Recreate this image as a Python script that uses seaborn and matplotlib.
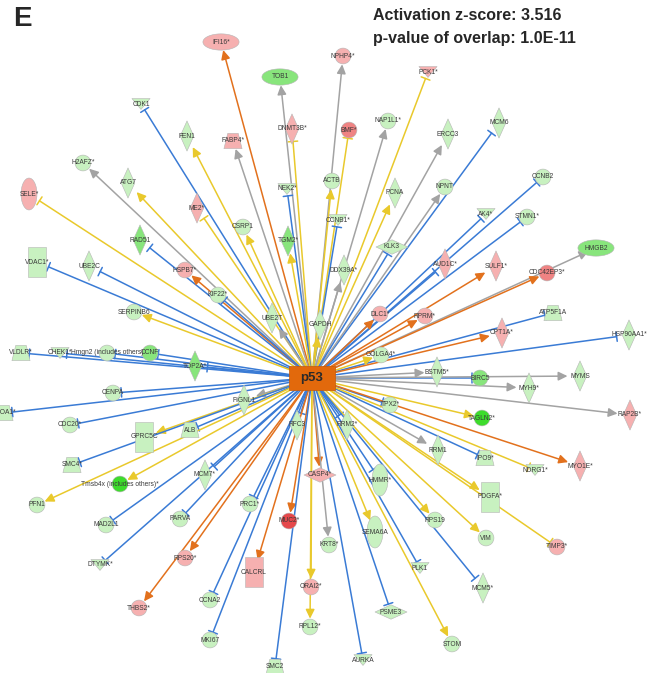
import numpy as np
import pandas as pd
import matplotlib.pyplot as plt
from matplotlib.path import Path
import seaborn as sns

sns.set_theme(style="white")
plt.rcParams["font.family"] = ["Liberation Sans", "DejaVu Sans"]

# hub of the network
HUB = "p53"
HUB_X, HUB_Y = 312, 378

# target genes, layout position, node shape, regulation level, edge type
genes = [
    "IFI16*", "TOB1", "NPHP4*", "PCK1*", "DNMT3B*", "BMF*", "NAP1L1*", "ERCC3", "MCM6", "FABP4*",
    "CDK1", "FEN1", "H2AFZ*", "ATG7", "SELE*", "ME2*", "NEK2*", "ACTB", "PCNA", "NPNT",
    "CCNB2", "CCNB1*", "CSRP1", "TGM2*", "AK4*", "STMN1*", "KLK3", "DDX39A*", "HMGB2", "RAD51",
    "VDAC1*", "UBE2C", "HSPB7*", "AUD1C*", "SULF1*", "CDC42EP3*", "KIF22*", "SERPINB6", "UBE2T", "GAPDH",
    "DLC1*", "RPRM*", "ATP5F1A", "CPT1A*", "HSP90AA1*", "VLDLR*", "CHEK1*", "Hmgn2 (includes others)", "CCNF", "TOP2A*",
    "GOLGA4*", "BSTM5*", "BIRC5", "MYH9*", "MYMS", "RAP2B*", "TAGLN2*", "CENPA", "APOA1*", "CDC20*",
    "ALB", "FIGNL1", "GPRC5C", "TPX2*", "RFC3", "RRM2*", "RRM1", "IPO9*", "NDRG1*", "MYO1E*",
    "SMC4*", "Tmsb4x (includes others)*", "MCM7*", "PFN1", "HMMR*", "CASP4*", "PDGFA*", "PARVA", "MAD2L1", "PRC1*",
    "MUC2*", "SEMA6A", "KRT8*", "RPS19", "VIM", "TIMP3*", "RPS20*", "DTYMK*", "CALCRL", "PLK1",
    "MCM5*", "THBS2*", "CCNA2", "ORAI2*", "PSME3", "RPL12*", "STOM", "MKI67", "AURKA", "SMC2",
    "",
]
node_x = [
    221, 280, 343, 428, 292, 349, 388, 448, 499, 233,
    141, 187, 83, 128, 29, 197, 287, 332, 395, 445,
    543, 338, 243, 288, 486, 527, 392, 344, 596, 140,
    37, 89, 185, 445, 496, 547, 218, 134, 272, 320,
    380, 425, 553, 502, 629, 21, 60, 107, 150, 195,
    381, 437, 480, 529, 580, 630, 482, 113, 4, 70,
    190, 244, 144, 390, 297, 347, 438, 485, 535, 580,
    72, 120, 205, 37, 380, 320, 490, 180, 106, 250,
    289, 375, 329, 435, 486, 557, 185, 100, 254, 420,
    483, 139, 210, 311, 391, 310, 452, 210, 363, 275,
    -40,
]
node_y = [
    42, 77, 56, 72, 129, 130, 121, 134, 123, 141,
    104, 136, 163, 183, 194, 208, 189, 181, 193, 187,
    177, 220, 227, 241, 214, 217, 247, 270, 248, 240,
    262, 266, 270, 264, 266, 273, 295, 312, 318, 325,
    314, 316, 313, 333, 335, 353, 353, 353, 353, 366,
    355, 372, 378, 388, 376, 415, 418, 393, 413, 425,
    430, 400, 437, 405, 425, 425, 450, 458, 470, 466,
    465, 484, 475, 505, 480, 475, 497, 519, 525, 504,
    521, 532, 545, 520, 538, 547, 558, 565, 572, 568,
    588, 608, 600, 587, 612, 627, 644, 640, 660, 667,
    290,
]
shapes = [
    "ellipse", "ellipse", "circle", "triangle", "diamond", "circle", "circle", "diamond", "diamond", "trapezoid",
    "triangle", "diamond", "circle", "diamond", "tall_ellipse", "diamond", "triangle", "circle", "diamond", "circle",
    "circle", "triangle", "circle", "diamond", "triangle", "circle", "wide_diamond", "diamond", "ellipse", "diamond",
    "rectangle", "diamond", "circle", "diamond", "diamond", "circle", "circle", "circle", "diamond", "diamond",
    "circle", "circle", "trapezoid", "diamond", "diamond", "trapezoid", "triangle", "circle", "circle", "diamond",
    "circle", "diamond", "circle", "diamond", "diamond", "diamond", "circle", "circle", "trapezoid", "circle",
    "trapezoid", "diamond", "rectangle", "circle", "diamond", "diamond", "diamond", "trapezoid", "triangle", "diamond",
    "trapezoid", "circle", "diamond", "circle", "tall_ellipse", "wide_diamond", "rectangle", "circle", "circle", "circle",
    "circle", "tall_ellipse", "circle", "circle", "circle", "circle", "circle", "triangle", "rectangle", "triangle",
    "diamond", "circle", "circle", "circle", "wide_diamond", "circle", "circle", "circle", "triangle", "trapezoid",
    "circle",
]
# negative = down-regulated (green), positive = up-regulated (red)
levels = [
    1, -2, 1, 1, 1, 2, -1, -1, -1, 1,
    -1, -1, -1, -1, 1, 1, -1, -1, -1, -1,
    -1, -1, -1, -2, -1, -1, -1, -1, -2, -2,
    -1, -1, 1, 1, 1, 2, -1, -1, -1, -1,
    1, 1, -1, 1, -1, -1, -1, -1, -2, -2,
    -1, -1, -2, -1, -1, 1, -3, -1, -1, -1,
    -1, -1, -1, -1, -1, -1, -1, -1, -1, 1,
    -1, -3, -1, -1, -1, 1, -1, -1, -1, -1,
    3, -1, -1, -1, -1, 1, 1, -1, 1, -1,
    -1, 1, -1, 1, -1, -1, -1, -1, -1, -1,
    -1,
]
# b = inhibition (blue), o = activation (orange), y = inconsistent (yellow), g = not predicted (grey)
edge_kind = [
    "o", "g", "g", "y", "y", "y", "g", "g", "b", "g",
    "b", "y", "g", "y", "y", "y", "b", "y", "y", "g",
    "b", "b", "y", "y", "b", "b", "b", "g", "g", "b",
    "b", "b", "o", "b", "o", "o", "b", "y", "g", "y",
    "o", "o", "b", "o", "b", "b", "b", "b", "b", "b",
    "y", "g", "b", "g", "g", "g", "y", "b", "b", "b",
    "b", "g", "y", "b", "b", "b", "g", "b", "y", "o",
    "b", "y", "b", "y", "b", "o", "y", "b", "b", "b",
    "o", "y", "g", "y", "y", "y", "o", "b", "o", "b",
    "b", "o", "b", "y", "b", "y", "y", "b", "b", "b",
    "y",
]
edge_head = [
    "arrow", "arrow", "arrow", "bar", "bar", "bar", "arrow", "arrow", "bar", "arrow",
    "bar", "arrow", "arrow", "arrow", "bar", "bar", "bar", "arrow", "arrow", "arrow",
    "bar", "bar", "arrow", "arrow", "bar", "bar", "bar", "arrow", "arrow", "bar",
    "bar", "bar", "arrow", "bar", "arrow", "arrow", "bar", "arrow", "arrow", "arrow",
    "arrow", "arrow", "bar", "arrow", "bar", "bar", "bar", "bar", "bar", "bar",
    "arrow", "arrow", "bar", "arrow", "arrow", "arrow", "arrow", "bar", "bar", "bar",
    "bar", "arrow", "arrow", "bar", "bar", "bar", "arrow", "bar", "bar", "arrow",
    "bar", "arrow", "bar", "arrow", "bar", "arrow", "arrow", "bar", "bar", "bar",
    "arrow", "arrow", "arrow", "arrow", "arrow", "bar", "arrow", "bar", "arrow", "bar",
    "bar", "arrow", "bar", "arrow", "bar", "arrow", "arrow", "bar", "bar", "bar",
    "arrow",
]

EDGE_COLORS = {"b": "#3a7bd5", "o": "#e2711d", "y": "#e9c92c", "g": "#a3a3a3"}
LEVEL_COLORS = {
    "-3": "#3ddc2c", "-2": "#88e57c", "-1": "#c8f1c0",
    "1": "#f6b0b0", "2": "#ef8383", "3": "#e5484b",
}


def poly(pts):
    pts = list(pts) + [pts[0]]
    codes = [Path.MOVETO] + [Path.LINETO] * (len(pts) - 2) + [Path.CLOSEPOLY]
    return Path(pts, codes)


_t = np.linspace(0, 2 * np.pi, 40, endpoint=False)
MARKERS = {
    "circle": "o",
    "diamond": poly([(0, 1), (0.45, 0), (0, -1), (-0.45, 0)]),
    "wide_diamond": poly([(1, 0), (0, 0.45), (-1, 0), (0, -0.45)]),
    "triangle": poly([(-1, 0.6), (1, 0.6), (0, -0.6)]),
    "ellipse": poly(list(zip(np.cos(_t), 0.45 * np.sin(_t)))),
    "tall_ellipse": poly(list(zip(0.5 * np.sin(_t), np.cos(_t)))),
    "rectangle": poly([(-0.6, 1), (0.6, 1), (0.6, -1), (-0.6, -1)]),
    "trapezoid": poly([(-0.55, 0.8), (0.55, 0.8), (0.95, -0.8), (-0.95, -0.8)]),
}
# marker areas in pt^2 (the figure is 100 px per inch)
SIZES = {
    "circle": 130, "diamond": 470, "wide_diamond": 530, "triangle": 170,
    "ellipse": 680, "tall_ellipse": 530, "rectangle": 470, "trapezoid": 170,
}
SHRINK = {
    "circle": 6, "diamond": 9, "wide_diamond": 6, "triangle": 5,
    "ellipse": 6, "tall_ellipse": 9, "rectangle": 9, "trapezoid": 6,
}

nodes = pd.DataFrame({
    "gene": genes, "x": node_x, "y": node_y, "shape": shapes,
    "level": [str(v) for v in levels], "kind": edge_kind, "head": edge_head,
})

fig = plt.figure(figsize=(6.52, 6.73), dpi=100)
ax = fig.add_axes([0, 0, 1, 1])

# edges from the hub
for _, r in nodes.iterrows():
    if r["head"] == "arrow":
        style = "-|>,head_length=0.45,head_width=0.22"
    else:
        style = "-[,widthB=0.28,lengthB=0"
    ax.annotate(
        "", xy=(r["x"], r["y"]), xytext=(HUB_X, HUB_Y),
        arrowprops=dict(arrowstyle=style, color=EDGE_COLORS[r["kind"]], lw=1.1,
                        shrinkA=0, shrinkB=SHRINK[r["shape"]]),
        zorder=1,
    )

# nodes
sns.scatterplot(
    data=nodes, x="x", y="y", hue="level", palette=LEVEL_COLORS,
    style="shape", markers=MARKERS, size="shape", sizes=SIZES,
    edgecolor="#b5b5b5", linewidth=0.4, legend=False, ax=ax, zorder=2,
)

for _, r in nodes.iterrows():
    ax.text(r["x"], r["y"], r["gene"], ha="center", va="center",
            fontsize=4.8, color="#3a3a3a", zorder=3, clip_on=True)

# hub node
hub_marker = poly([(-1, 0.52), (1, 0.52), (1, -0.52), (-1, -0.52)])
sns.scatterplot(x=[HUB_X], y=[HUB_Y], marker=hub_marker, s=1100, color="#e2690c",
                edgecolor="#c85a08", linewidth=0.5, ax=ax, zorder=4, legend=False)
ax.text(HUB_X, HUB_Y, HUB, ha="center", va="center", fontsize=9.5,
        fontweight="bold", color="#2a2a2a", zorder=5)

ax.set_xlim(0, 652)
ax.set_ylim(673, 0)
ax.axis("off")

fig.text(13 / 652, 1 - 19 / 673, "E", fontsize=20, fontweight="bold", va="center", ha="left")
fig.text(373 / 652, 1 - 16 / 673, "Activation z-score: 3.516", fontsize=11.5,
         fontweight="bold", va="center", ha="left")
fig.text(373 / 652, 1 - 38 / 673, "p-value of overlap: 1.0E-11", fontsize=11.5,
         fontweight="bold", va="center", ha="left")

fig.savefig("out.png", dpi=100, facecolor="white")
